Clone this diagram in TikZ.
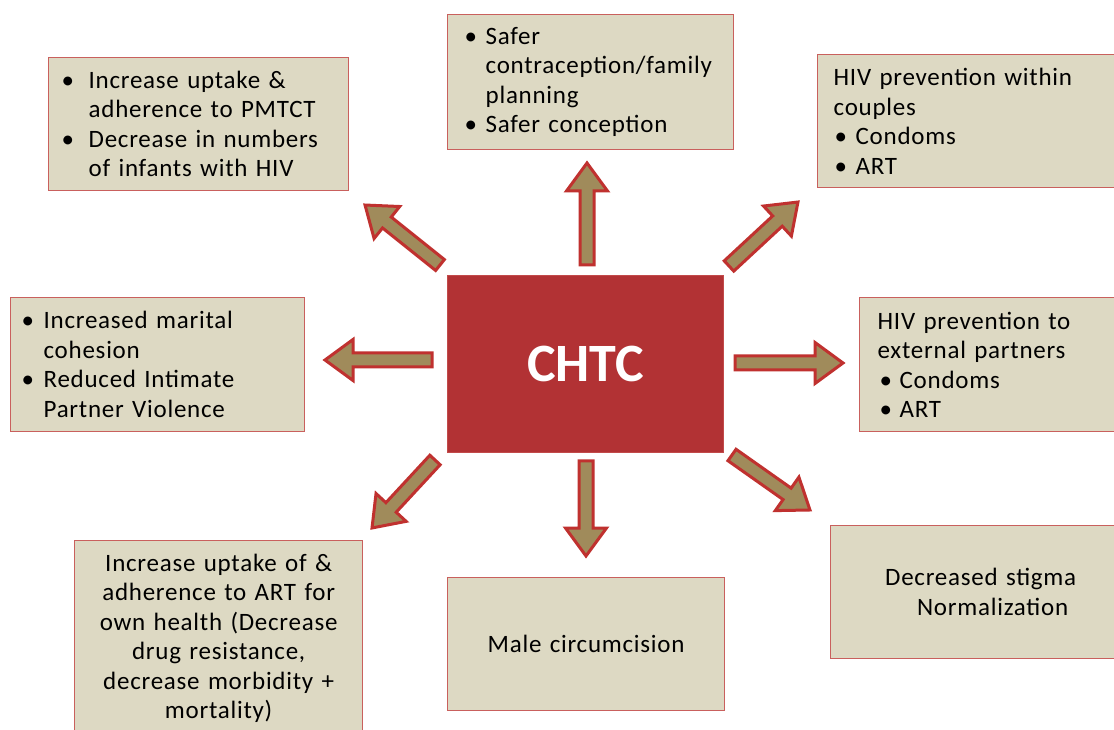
\documentclass[tikz,border=0pt]{standalone}
\usepackage{fontspec}
\setmainfont{Carlito}
\usetikzlibrary{calc}
\definecolor{boxfill}{HTML}{DDD9C3}
\definecolor{boxedge}{HTML}{C9605D}
\definecolor{hubfill}{HTML}{B23234}
\definecolor{hubedge}{HTML}{C24A4A}
\definecolor{arrfill}{HTML}{A08B5B}
\definecolor{arredge}{HTML}{C0312F}
\newcommand\bul[1]{\hspace*{-4pt}\makebox[\dimexpr#1pt+4pt\relax][l]{\textbullet}}
\newcommand\ind[1]{\hspace*{#1pt}}
\newcommand\blockarrow[2]{%
  \path[arrowshape] let \p1=(#1), \p2=(#2),
    \n1={atan2(\y2-\y1,\x2-\x1)}, \n2={veclen(\x2-\x1,\y2-\y1)} in
    [shift={(\p1)}, rotate=\n1]
    (0,-7) -- (\n2-28,-7) -- (\n2-28,-20.5) -- (\n2,0) -- (\n2-28,20.5) -- (\n2-28,7) -- (0,7) -- cycle;}
\begin{document}
\begin{tikzpicture}[x=1pt,y=1pt,
  outcome/.style={draw=boxedge, line width=1.3pt, fill=boxfill,
    font=\fontsize{25}{29.5}\selectfont\addfontfeature{LetterSpace=3}, inner ysep=0pt, anchor=north west},
  hub/.style={draw=hubedge, line width=1pt, fill=hubfill, text=white,
    font=\bfseries\fontsize{54}{60}\selectfont, anchor=north west,
    minimum width=276pt, minimum height=177pt, inner sep=0pt},
  arrowshape/.style={draw=arredge, fill=arrfill, line width=3pt, line join=miter}
]
\clip (0,0) rectangle (1114,729);
\fill[white] (0,0) rectangle (1114,729);

% outcome boxes
\node[outcome, text width=266pt, inner xsep=17pt, minimum height=133pt, align=left] (b1) at (48,672)
  {\bul{23}Increase uptake \&\\ \ind{23}adherence to PMTCT\\ \bul{23}Decrease in numbers\\ \ind{23}of infants with HIV};
\node[outcome, text width=244pt, inner xsep=21pt, minimum height=135pt, align=left] (b2) at (447,715)
  {\bul{17}Safer\\ \ind{17}contraception/family\\ \ind{17}planning\\ \bul{17}Safer conception};
\node[outcome, text width=281pt, inner xsep=16pt, minimum height=133pt, align=left] (b3) at (817,675)
  {HIV prevention within\\ couples\\ \ind{5}\bul{17}Condoms\\ \ind{5}\bul{17}ART};
\node[outcome, text width=264pt, inner xsep=15pt, minimum height=134pt, align=left] (b4) at (10,432)
  {\bul{18}Increased marital\\ \ind{18}cohesion\\ \bul{18}Reduced Intimate\\ \ind{18}Partner Violence};
\node[outcome, text width=235pt, inner xsep=18pt, minimum height=134pt, align=left] (b5) at (859,432)
  {HIV prevention to\\ external partners\\ \ind{6}\bul{16}Condoms\\ \ind{6}\bul{16}ART};
\node[outcome, text width=268pt, inner xsep=10pt, minimum height=195pt, align=center] (b6) at (74,189)
  {Increase uptake of \&\\ adherence to ART for\\ own health (Decrease\\ drug resistance,\\ decrease morbidity +\\ mortality)};
\node[outcome, text width=257pt, inner xsep=10pt, minimum height=133pt, align=center] (b7) at (447,152)
  {Male circumcision};
\node[outcome, text width=280pt, inner xsep=10pt, minimum height=133pt, align=center] (b8) at (830,204)
  {Decreased stigma\\ \ind{24}Normalization};

% hub
\node[hub] (hub) at (447,454) {CHTC};

% arrow ends
\coordinate (tL) at (432,369);  \coordinate (hL) at (325,369);
\coordinate (tR) at (735,366);  \coordinate (hR) at (843,366);
\coordinate (tU) at (587,464);  \coordinate (hU) at (587,566);
\coordinate (tD) at (586,268);  \coordinate (hD) at (586,173);
\coordinate (tUL) at (440,464); \coordinate (hUL) at (365,524);
\coordinate (tUR) at (729,463); \coordinate (hUR) at (798,527);
\coordinate (tDL) at (435,269); \coordinate (hDL) at (372,201);
\coordinate (tDR) at (732,274); \coordinate (hDR) at (810,219);

\blockarrow{tL}{hL}
\blockarrow{tR}{hR}
\blockarrow{tU}{hU}
\blockarrow{tD}{hD}
\blockarrow{tUL}{hUL}
\blockarrow{tUR}{hUR}
\blockarrow{tDL}{hDL}
\blockarrow{tDR}{hDR}
\end{tikzpicture}
\end{document}
